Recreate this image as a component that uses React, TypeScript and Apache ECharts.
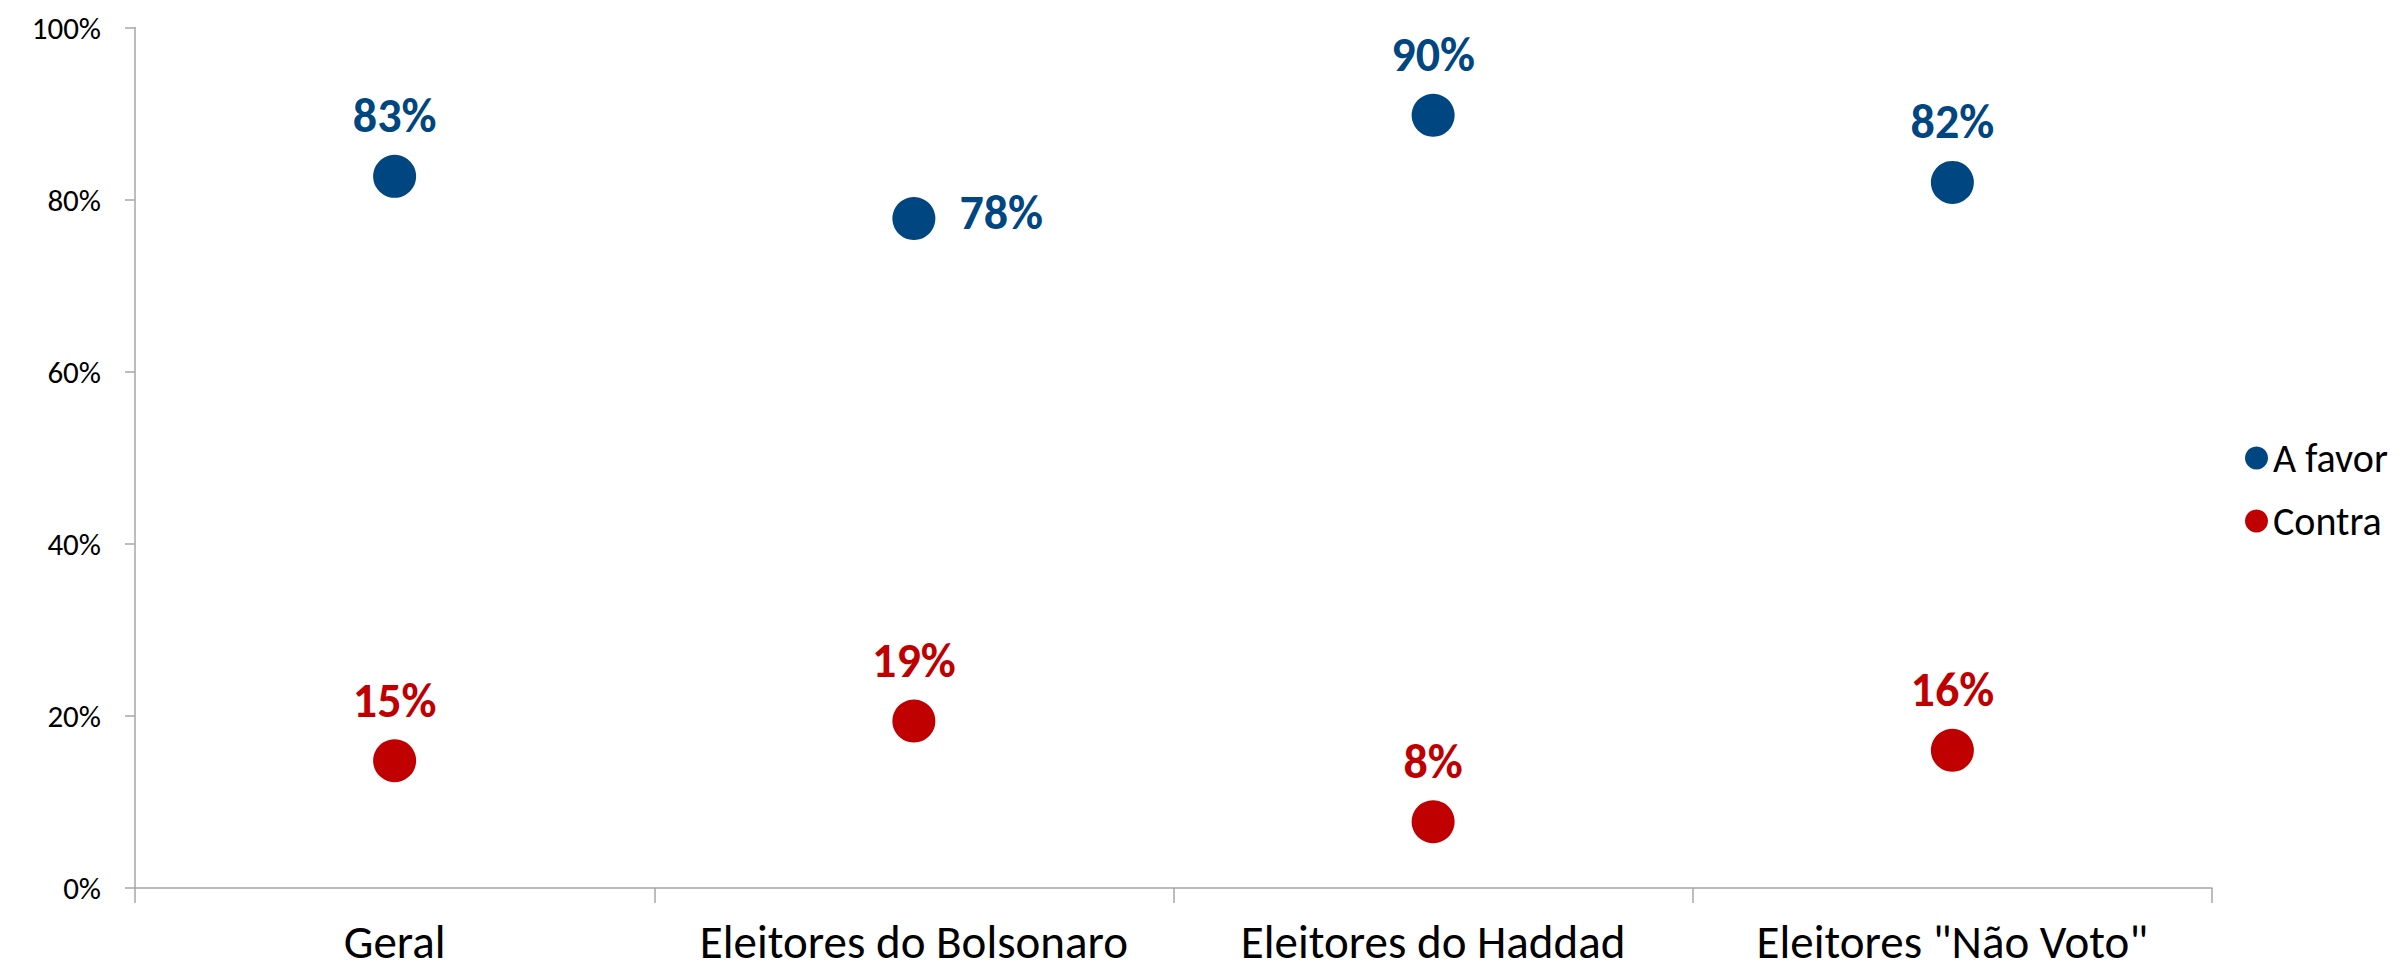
import React, { useEffect, useRef } from "react";
import * as echarts from "echarts";

const categories = ["Geral", "Eleitores do Bolsonaro", "Eleitores do Haddad", 'Eleitores "Não Voto"'];
const aFavor = [82.7, 77.8, 89.8, 82.0];
const contra = [14.8, 19.4, 7.7, 16.0];
const yTicks = [0, 20, 40, 60, 80, 100];

const BLUE = "#004680";
const RED = "#C00000";
const FONT = "Carlito, Lato, 'Noto Sans', sans-serif";

export default function App() {
  const ref = useRef<HTMLDivElement>(null);
  useEffect(() => {
    if (!ref.current) return;
    const chart = echarts.init(ref.current, undefined, { renderer: "svg" });
    const labelStyle = (color: string) => ({
      show: true,
      position: "top" as const,
      distance: 14,
      color,
      opacity: 1,
      fontFamily: FONT,
      fontWeight: "bold" as const,
      fontSize: 48,
      lineHeight: 50,
      formatter: (p: any) => Math.round(p.value) + "%",
    });
    chart.setOption({
      animation: false,
      backgroundColor: "#ffffff",
      grid: { left: 135, right: 188, top: 27.5, bottom: 82, containLabel: false },
      legend: {
        orient: "vertical",
        left: 2240,
        top: 433,
        icon: "circle",
        itemWidth: 23,
        itemHeight: 23,
        itemGap: 23,
        selectedMode: false,
        textStyle: { fontFamily: FONT, fontSize: 40, lineHeight: 40, color: "#000" },
        data: ["A favor", "Contra"],
      },
      xAxis: {
        type: "category",
        data: categories,
        boundaryGap: true,
        axisLine: { show: true, lineStyle: { color: "#A6A6A6", width: 1.5 } },
        axisTick: { show: true, alignWithLabel: false, length: 15, lineStyle: { color: "#A6A6A6", width: 1.5 } },
        axisLabel: { fontFamily: FONT, fontSize: 47, lineHeight: 47, color: "#000", margin: 30, interval: 0 },
        splitLine: { show: false },
      },
      yAxis: {
        type: "value",
        min: yTicks[0],
        max: yTicks[yTicks.length - 1],
        interval: 20,
        axisLine: { show: true, lineStyle: { color: "#A6A6A6", width: 1.5 } },
        axisTick: { show: true, length: 10, lineStyle: { color: "#A6A6A6", width: 1.5 } },
        axisLabel: { fontFamily: FONT, fontSize: 31, color: "#000", margin: 34, formatter: "{value}%" },
        splitLine: { show: false },
      },
      series: [
        {
          name: "A favor",
          type: "scatter",
          symbol: "circle",
          symbolSize: 43,
          itemStyle: { color: BLUE, opacity: 1 },
          label: labelStyle(BLUE),
          data: aFavor.map((v, i) =>
            i === 1
              ? { value: v, label: { position: "right", distance: 24, offset: [0, -6] } }
              : { value: v }
          ),
        },
        {
          name: "Contra",
          type: "scatter",
          symbol: "circle",
          symbolSize: 43,
          itemStyle: { color: RED, opacity: 1 },
          label: labelStyle(RED),
          data: contra.map((v) => ({ value: v })),
        },
      ],
    });
    return () => chart.dispose();
  }, []);
  return <div ref={ref} style={{ position: "fixed", left: 0, top: 0, width: 2400, height: 970 }} />;
}
